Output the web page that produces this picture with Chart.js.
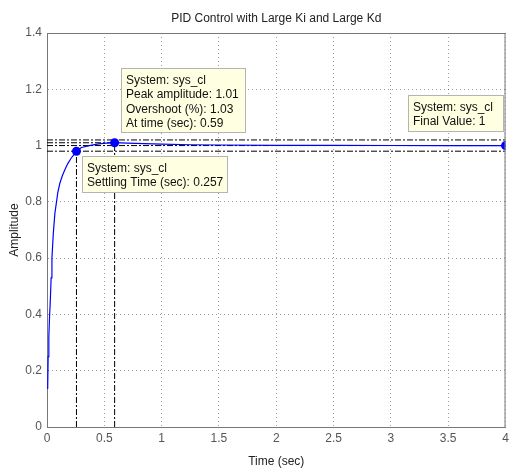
<!DOCTYPE html>
<html><head><meta charset="utf-8">
<script src="https://cdn.jsdelivr.net/npm/chart.js@4"></script>
<style>html,body{margin:0;padding:0;background:#fff}</style>
</head><body>
<canvas id="c" width="510" height="469"></canvas>
<script>
// ---------- data ----------
const chartTitle = 'PID Control with Large Ki and Large Kd';
const xAxisLabel = 'Time (sec)';
const yAxisLabel = 'Amplitude';
const xTickLabels = ['0','0.5','1','1.5','2','2.5','3','3.5','4'];
const yTickLabels = ['0','0.2','0.4','0.6','0.8','1','1.2','1.4'];
const xMin = 0, xMax = 4, xStep = 0.5;
const yMin = 0, yMax = 1.4, yStep = 0.2;

const timeSec   = [0.006, 0.010, 0.016, 0.022, 0.029, 0.036, 0.043, 0.055, 0.069, 0.083, 0.095, 0.112, 0.133, 0.155, 0.180, 0.210, 0.235, 0.257, 0.300, 0.370, 0.450, 0.520, 0.590, 0.700, 0.850, 1.000, 1.250, 1.500, 2.000, 2.500, 3.000, 3.500, 4.000];
const amplitude = [0.135, 0.250, 0.320, 0.390, 0.450, 0.530, 0.600, 0.688, 0.760, 0.800, 0.835, 0.866, 0.892, 0.913, 0.935, 0.955, 0.968, 0.980, 0.993, 1.000, 1.006, 1.009, 1.0103, 1.009, 1.007, 1.005, 1.003, 1.002, 1.001, 1.0004, 1.0002, 1.0001, 1.000];

const settlingTime = 0.257, settlingValue = 0.98;
const peakTime = 0.59, peakAmplitude = 1.01;
const finalTime = 4, finalValue = 1;
const settleBandLow = 0.98, settleBandHigh = 1.02;

const tipPeak = ['System: sys_cl', 'Peak amplitude: 1.01', 'Overshoot (%): 1.03', 'At time (sec): 0.59'];
const tipSettling = ['System: sys_cl', 'Settling Time (sec): 0.257'];
const tipFinal = ['System: sys_cl', 'Final Value: 1'];

// ---------- chart ----------
const FONT = '"Liberation Sans", Arial, Helvetica, sans-serif';
const FS = 12;
const dashDot = [6, 2, 2, 2];
const pts = (xs, ys) => xs.map((x, i) => ({x, y: ys[i]}));
const refLine = (xs, ys) => ({
  data: pts(xs, ys), showLine: true, borderColor: '#000', borderWidth: 1,
  borderDash: dashDot, pointRadius: 0, pointHoverRadius: 0, fill: false
});

const decor = {
  id: 'decor',
  beforeDraw(chart) {
    const c = chart.ctx;
    c.save(); c.fillStyle = '#fff'; c.fillRect(0, 0, chart.width, chart.height); c.restore();
  },
  afterDraw(chart) {
    const c = chart.ctx, a = chart.chartArea;
    const xs = chart.scales.x, ys = chart.scales.y;
    c.save();
    // frame (top & right)
    c.strokeStyle = '#777'; c.lineWidth = 1;
    c.beginPath();
    c.moveTo(a.left, a.top + 0.5); c.lineTo(a.right, a.top + 0.5);
    c.moveTo(a.right - 0.5, a.top); c.lineTo(a.right - 0.5, a.bottom);
    c.stroke();
    // title
    c.fillStyle = '#222'; c.font = FS + 'px ' + FONT;
    c.textAlign = 'center'; c.textBaseline = 'middle';
    c.fillText(chartTitle, (a.left + a.right) / 2, 19);
    // datatips
    const lh = 14.3, padT = 5, padB = 3, padX = 5;
    const box = (lines, left, top, anchor, extraW) => {
      c.font = FS + 'px ' + FONT;
      let w = 0; lines.forEach(s => w = Math.max(w, c.measureText(s).width));
      w = Math.round(w + padX * 2 + (extraW || 0));
      const h = Math.round(padT + padB + lh * lines.length);
      let L = left, T = top;
      if (anchor.includes('right')) L = left - w;
      if (anchor.includes('bottom')) T = top - h;
      L = Math.round(L); T = Math.round(T);
      c.fillStyle = '#ffffe1'; c.fillRect(L, T, w, h);
      c.strokeStyle = '#b4b4b4'; c.lineWidth = 1; c.strokeRect(L + 0.5, T + 0.5, w - 1, h - 1);
      c.fillStyle = '#111'; c.textAlign = 'left'; c.textBaseline = 'middle';
      lines.forEach((s, i) => c.fillText(s, L + padX, T + padT + lh * (i + 0.5) + 0.5));
    };
    box(tipPeak, xs.getPixelForValue(peakTime) + 6, ys.getPixelForValue(peakAmplitude) - 10, 'bottom-left', 2);
    box(tipSettling, xs.getPixelForValue(settlingTime) + 6, ys.getPixelForValue(settlingValue) + 5, 'top-left');
    box(tipFinal, xs.getPixelForValue(finalTime) - 2, ys.getPixelForValue(finalValue) - 14, 'bottom-right', 6);
    c.restore();
  }
};

const gridCommon = { color: 'rgba(60,60,60,0.5)', lineWidth: 1, drawTicks: false };
const borderCommon = { display: true, color: '#777', width: 1, dash: [1, 3] };

new Chart(document.getElementById('c'), {
  type: 'scatter',
  data: {
    datasets: [
      { data: pts([settlingTime, peakTime, finalTime], [settlingValue, peakAmplitude, finalValue]),
        pointRadius: 4.5, pointHoverRadius: 4.5, backgroundColor: '#0000ff', borderColor: '#0000ff', borderWidth: 0 },
      { data: pts(timeSec, amplitude), showLine: true, borderColor: '#0000ff', borderWidth: 1.2,
        pointRadius: 0, pointHoverRadius: 0, tension: 0, fill: false },
      refLine([xMin, xMax], [finalValue, finalValue]),
      refLine([xMin, xMax], [settleBandHigh, settleBandHigh]),
      refLine([xMin, xMax], [settleBandLow, settleBandLow]),
      refLine([xMin, peakTime], [peakAmplitude, peakAmplitude]),
      refLine([peakTime, peakTime], [yMin, peakAmplitude]),
      refLine([settlingTime, settlingTime], [yMin, settlingValue])
    ]
  },
  options: {
    responsive: false, animation: false, devicePixelRatio: 1,
    layout: { padding: { top: 33, right: 0, left: 0, bottom: 0 } },
    plugins: { legend: { display: false }, tooltip: { enabled: false }, title: { display: false } },
    scales: {
      x: {
        type: 'linear', min: xMin, max: xMax,
        ticks: { stepSize: xStep, autoSkip: false, maxRotation: 0, padding: 4, color: '#555',
                 font: { family: FONT, size: FS }, callback: (v, i) => xTickLabels[i] },
        grid: gridCommon, border: borderCommon,
        title: { display: true, text: xAxisLabel, color: '#222', font: { family: FONT, size: FS }, padding: { top: 0, bottom: 0 } },
        afterFit(s) { s.height = 42; s.paddingLeft = 0; s.paddingRight = 0; }
      },
      y: {
        type: 'linear', min: yMin, max: yMax,
        ticks: { stepSize: yStep, autoSkip: false, padding: 5, color: '#555',
                 font: { family: FONT, size: FS }, callback: (v, i) => yTickLabels[i] },
        grid: gridCommon, border: borderCommon,
        title: { display: true, text: yAxisLabel, color: '#222', font: { family: FONT, size: FS }, padding: { top: 7, bottom: 0 } },
        afterFit(s) { s.width = 47; s.paddingTop = 0; s.paddingBottom = 0; }
      }
    }
  },
  plugins: [decor]
});
</script>
</body></html>
